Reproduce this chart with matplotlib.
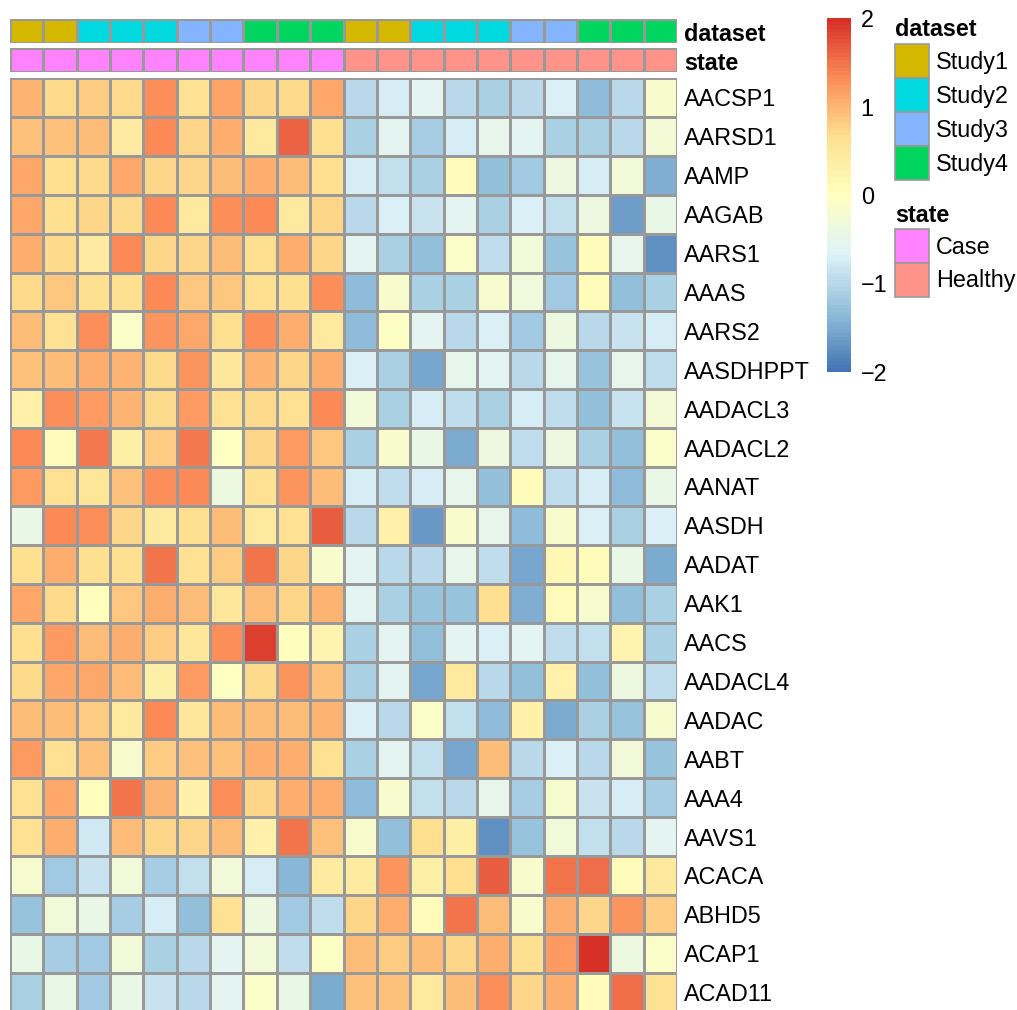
import numpy as np
import matplotlib
matplotlib.use('Agg')
import matplotlib.pyplot as plt
from matplotlib.colors import LinearSegmentedColormap, ListedColormap
from matplotlib.patches import Rectangle

plt.rcParams['font.family'] = ['Liberation Sans', 'DejaVu Sans']

genes = ['AACSP1', 'AARSD1', 'AAMP', 'AAGAB', 'AARS1', 'AAAS', 'AARS2',
         'AASDHPPT', 'AADACL3', 'AADACL2', 'AANAT', 'AASDH', 'AADAT', 'AAK1',
         'AACS', 'AADACL4', 'AADAC', 'AABT', 'AAA4', 'AAVS1', 'ACACA',
         'ABHD5', 'ACAP1', 'ACAD11']

dataset = ['Study1', 'Study1', 'Study2', 'Study2', 'Study2', 'Study3', 'Study3',
           'Study4', 'Study4', 'Study4'] * 2
state = ['Case'] * 10 + ['Healthy'] * 10

dataset_levels = ['Study1', 'Study2', 'Study3', 'Study4']
dataset_colors = ['#D4B800', '#00D9E0', '#85B4FF', '#00D65F']
state_levels = ['Case', 'Healthy']
state_colors = ['#FF82FF', '#FF938A']

# scaled expression, one row per gene, columns = samples
expr = np.array([
    [1.0, 0.7, 0.8, 0.7, 1.3, 0.6, 1.15, 0.75, 0.7, 1.1, -1.0, -0.75, -0.6, -1.0, -1.1, -1.0, -0.7, -1.35, -1.0, -0.15],
    [0.9, 0.9, 0.95, 0.4, 1.35, 0.75, 1.05, 0.45, 1.6, 0.65, -1.1, -0.6, -1.15, -0.75, -0.5, -0.6, -1.1, -1.1, -1.0, -0.25],
    [1.1, 0.65, 0.7, 1.1, 0.75, 0.75, 0.95, 1.05, 0.95, 0.65, -0.75, -0.9, -1.1, 0.05, -1.3, -1.2, -0.4, -0.75, -0.3, -1.45],
    [1.1, 0.65, 0.75, 0.7, 1.35, 0.45, 1.3, 1.35, 0.45, 0.75, -1.0, -0.7, -0.85, -0.6, -1.1, -0.7, -0.9, -0.4, -1.6, -0.45],
    [1.05, 0.7, 0.4, 1.35, 0.75, 0.75, 0.95, 0.65, 1.05, 0.75, -0.6, -1.1, -1.3, -0.1, -0.95, -0.3, -1.25, 0.05, -0.55, -1.75],
    [0.7, 0.85, 0.65, 0.65, 1.35, 0.85, 0.85, 0.65, 0.65, 1.3, -1.35, -0.15, -1.1, -1.1, -0.2, -0.35, -1.2, 0.05, -1.3, -1.1],
    [0.95, 0.6, 1.3, -0.1, 1.25, 1.1, 0.65, 1.3, 1.05, 0.45, -1.35, -0.05, -0.6, -1.0, -0.7, -1.2, -0.4, -1.0, -0.85, -0.75],
    [0.9, 0.95, 1.05, 1.0, 0.7, 1.25, 0.5, 1.0, 0.75, 1.05, -0.7, -1.1, -1.55, -0.5, -0.6, -1.0, -0.55, -1.25, -0.5, -0.95],
    [0.3, 1.3, 1.2, 1.0, 0.7, 1.2, 0.6, 0.7, 0.6, 1.35, -0.3, -1.1, -0.75, -0.95, -1.1, -0.75, -0.95, -1.3, -0.85, -0.25],
    [1.35, 0.05, 1.45, 0.35, 0.8, 1.45, -0.03, 0.75, 1.2, 0.85, -1.1, -0.15, -0.45, -1.5, -0.4, -0.95, -0.4, -1.1, -1.3, -0.12],
    [1.2, 0.6, 0.55, 0.9, 1.3, 1.35, -0.4, 0.6, 1.25, 0.95, -0.75, -0.95, -0.75, -0.5, -1.3, 0.05, -0.95, -0.75, -1.35, -0.45],
    [-0.45, 1.35, 1.3, 0.75, 0.45, 0.65, 0.95, 0.45, 0.6, 1.65, -1.0, 0.3, -1.65, -0.15, -0.5, -1.35, -0.15, -0.7, -1.1, -0.7],
    [0.65, 1.05, 0.65, 0.65, 1.5, 0.6, 0.8, 1.5, 0.75, -0.15, -0.6, -1.0, -1.0, -0.5, -0.95, -1.55, 0.15, 0.05, -0.45, -1.5],
    [1.1, 0.7, 0.0, 0.85, 1.05, 0.95, 0.5, 0.95, 0.75, 1.0, -0.6, -1.1, -1.25, -1.25, 0.65, -1.45, 0.05, -0.2, -1.3, -1.1],
    [0.65, 1.2, 0.95, 1.05, 0.8, 0.5, 1.3, 1.85, 0.03, 0.2, -1.1, -0.6, -1.3, -0.6, -0.7, -0.6, -0.95, -0.9, 0.2, -1.1],
    [0.7, 1.1, 1.1, 0.95, 0.35, 1.2, -0.02, 0.7, 1.25, 0.9, -1.1, -0.6, -1.55, 0.45, -1.0, -1.3, 0.3, -1.3, -0.4, -0.95],
    [0.95, 0.95, 0.8, 0.45, 1.35, 0.5, 0.95, 0.95, 0.95, 1.0, -0.7, -1.0, -0.1, -0.9, -1.35, 0.3, -1.5, -1.1, -1.25, -0.2],
    [1.2, 0.6, 0.9, -0.15, 0.8, 0.9, 0.9, 1.05, 1.05, 0.6, -1.1, -0.6, -0.9, -1.55, 0.95, -1.0, -0.7, -1.0, -0.3, -1.25],
    [0.6, 1.1, 0.0, 1.5, 1.0, 0.3, 1.3, 0.75, 1.05, 1.05, -1.35, -0.2, -0.9, -1.0, -0.5, -1.15, -0.2, -0.85, -0.75, -1.15],
    [0.6, 1.05, -0.8, 0.95, 0.75, 0.75, 0.95, 0.3, 1.5, 0.9, -0.15, -1.3, 0.65, 0.35, -1.75, -1.25, -0.3, -0.9, -1.0, -0.6],
    [-0.2, -1.2, -0.85, -0.3, -1.15, -0.9, -0.3, -0.75, -1.4, 0.4, 0.4, 1.25, 0.35, 0.65, 1.65, -0.15, 1.5, 1.55, 0.05, 0.45],
    [-1.25, -0.3, -0.45, -1.15, -0.75, -1.3, 0.6, -0.4, -1.2, -0.95, 0.75, 1.05, 0.05, 1.5, 0.95, -0.15, 1.05, 0.75, 1.25, 0.8],
    [-0.45, -1.15, -1.2, -0.3, -1.1, -1.0, -0.6, -0.3, -0.95, -0.05, 0.95, 0.8, 0.95, 0.75, 1.05, 0.65, 1.2, 2.0, -0.4, -0.12],
    [-1.1, -0.45, -1.2, -0.45, -0.85, -1.0, -0.6, -0.12, -0.45, -1.5, 0.9, 0.9, 0.45, 0.95, 1.3, 0.75, 1.05, 0.05, 1.55, 0.6],
])

# pheatmap default palette: rev(RdYlBu, 7) in 100 steps
rdylbu = ['#4575B4', '#91BFDB', '#E0F3F8', '#FFFFBF', '#FEE090', '#FC8D59', '#D73027']
ramp = LinearSegmentedColormap.from_list('ramp', rdylbu)
cmap = ListedColormap(ramp(np.linspace(0, 1, 100)))

W, H = 1017, 1010
fig = plt.figure(figsize=(W / 100, H / 100), dpi=100)

def px_axes(x0, y0, w, h):
    return fig.add_axes([x0 / W, 1 - (y0 + h) / H, w / W, h / H])

fs = 16.8
grid_col = '#999999'
n_rows, n_cols = expr.shape
cell_h = 38.9

ax = px_axes(10, 78, 667, cell_h * n_rows)
mesh = ax.pcolormesh(expr, cmap=cmap, vmin=-2, vmax=2,
                     edgecolors=grid_col, linewidth=0.8)
ax.set_xlim(0, n_cols)
ax.set_ylim(n_rows, 0)
ax.set_xticks([])
ax.set_yticks(np.arange(n_rows) + 0.5)
ax.set_yticklabels(genes, fontsize=fs)
ax.yaxis.tick_right()
ax.tick_params(axis='y', length=0, pad=5)
for s in ax.spines.values():
    s.set_visible(False)

# column annotation bars
for i, (lab, vals, levels, cols) in enumerate([
        ('dataset', dataset, dataset_levels, dataset_colors),
        ('state', state, state_levels, state_colors)]):
    a = px_axes(10, 19 + i * 29, 667, 24)
    idx = np.array([[levels.index(v) for v in vals]])
    a.pcolormesh(idx, cmap=ListedColormap(cols), vmin=-0.5, vmax=len(cols) - 0.5,
                 edgecolors=grid_col, linewidth=0.8)
    a.set_xlim(0, n_cols)
    a.set_ylim(1, 0)
    a.set_xticks([])
    a.set_yticks([0.55])
    a.set_yticklabels([lab], fontsize=fs, fontweight='bold')
    a.yaxis.tick_right()
    a.tick_params(axis='y', length=0, pad=5)
    for s in a.spines.values():
        s.set_visible(False)

# colour key
cax = px_axes(827, 18, 24, 354)
cb = fig.colorbar(mesh, cax=cax, ticks=[-2, -1, 0, 1, 2])
cb.outline.set_visible(False)
cax.tick_params(length=0, labelsize=fs, pad=7)

# annotation legend
lg = fig.add_axes([0, 0, 1, 1])
lg.set_xlim(0, W)
lg.set_ylim(H, 0)
lg.axis('off')
y = 30
box = 34
for title, levels, cols in [('dataset', dataset_levels, dataset_colors),
                            ('state', state_levels, state_colors)]:
    lg.text(895, y, title, fontsize=fs, fontweight='bold', va='center', ha='left')
    y += 14
    for lev, c in zip(levels, cols):
        lg.add_patch(Rectangle((895, y), 34, box, facecolor=c,
                               edgecolor=grid_col, linewidth=1.2))
        lg.text(936, y + box / 2 + 1, lev, fontsize=fs, va='center', ha='left')
        y += box
    y += 35

plt.savefig('out.png', dpi=100)
